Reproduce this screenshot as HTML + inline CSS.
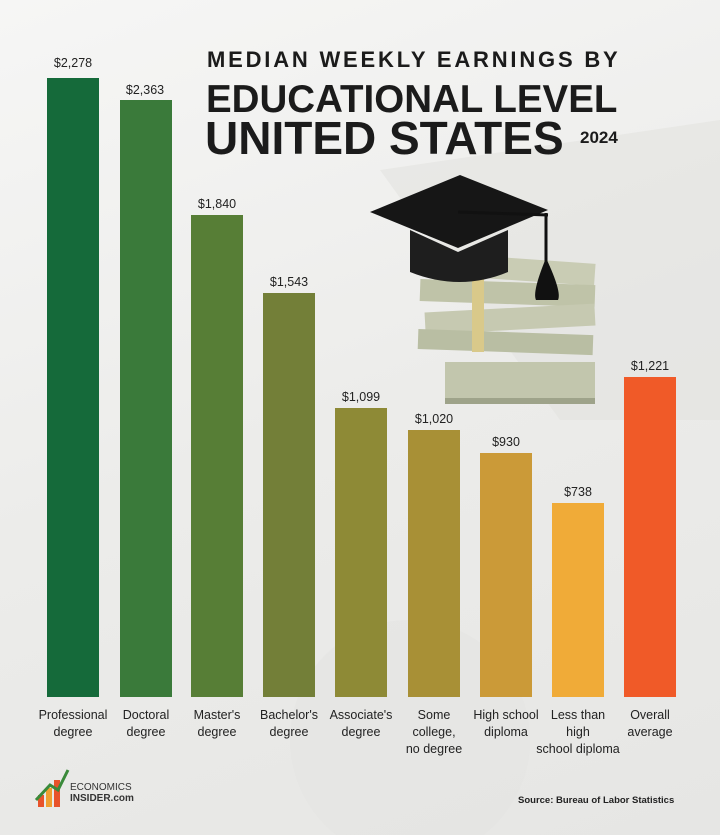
<!DOCTYPE html>
<html><head><meta charset="utf-8"><style>
body{margin:0;width:720px;height:835px;overflow:hidden;background:#efefee;font-family:"Liberation Sans",sans-serif;}
.c{position:relative;width:720px;height:835px;background:linear-gradient(160deg,#f6f6f5 0%,#ececea 50%,#e6e6e4 100%);}
.bar{position:absolute;bottom:138px;width:52px;}
.v{position:absolute;font-size:12.5px;color:#222;text-align:center;width:70px;}
.l{position:absolute;top:707px;font-size:12.5px;color:#222;text-align:center;width:100px;line-height:17px;}
.t{position:absolute;font-weight:bold;color:#1b1b1b;white-space:nowrap;}
</style></head><body><div class="c">
<svg width="720" height="835" style="position:absolute;left:0;top:0">
<polygon points="380,170 720,120 720,420 560,420" fill="#e2e2df" opacity="0.6"/>
<circle cx="410" cy="740" r="120" fill="#e3e3e1" opacity="0.5"/>
<g>
<rect x="430" y="258" width="165" height="22" fill="#c9ccb4" transform="rotate(4 512 269)"/>
<rect x="420" y="282" width="175" height="22" fill="#bfc3a8" transform="rotate(2 507 293)"/>
<rect x="425" y="308" width="170" height="22" fill="#c6c9b1" transform="rotate(-3 510 319)"/>
<rect x="418" y="332" width="175" height="20" fill="#b9bea3" transform="rotate(2 505 342)"/>
<rect x="445" y="362" width="150" height="40" fill="#c2c6ad"/>
<rect x="445" y="398" width="150" height="6" fill="#9ea38a"/>
<rect x="472" y="262" width="12" height="90" fill="#d9c98a"/>
</g>
<polygon points="370,212 460,175 548,210 458,248" fill="#161616"/>
<path d="M410,230 L410,272 Q460,292 508,272 L508,230 L458,252 Z" fill="#1e1e1e"/>
<line x1="458" y1="212" x2="548" y2="215" stroke="#111" stroke-width="3"/>
<line x1="546" y1="213" x2="546" y2="262" stroke="#111" stroke-width="3"/>
<path d="M546,258 Q532,292 536,300 L558,300 Q562,292 546,258Z" fill="#111"/>
<rect x="38" y="795" width="6" height="12" fill="#e8532a"/>
<rect x="46" y="788" width="6" height="19" fill="#f0a030"/>
<rect x="54" y="780" width="6" height="27" fill="#e8532a"/>
<polyline points="36,800 50,785 58,790 68,770" stroke="#3a8a3a" stroke-width="3" fill="none"/>
</svg>
<div class="t" style="left:207px;top:47px;font-size:22px;letter-spacing:2.8px">MEDIAN WEEKLY EARNINGS BY</div>
<div class="t" style="left:206px;top:78px;font-size:38.5px;letter-spacing:0px">EDUCATIONAL LEVEL</div>
<div class="t" style="left:205px;top:111px;font-size:46px;letter-spacing:0px">UNITED STATES</div>
<div class="t" style="left:580px;top:128px;font-size:17px">2024</div>

<div class="bar" style="left:47px;top:78px;background:#156a3a"></div>
<div class="bar" style="left:120px;top:100px;background:#3a7a3a"></div>
<div class="bar" style="left:191px;top:215px;background:#577e36"></div>
<div class="bar" style="left:263px;top:293px;background:#737f38"></div>
<div class="bar" style="left:335px;top:408px;background:#8e8a36"></div>
<div class="bar" style="left:408px;top:430px;background:#a89036"></div>
<div class="bar" style="left:480px;top:453px;background:#cb9a38"></div>
<div class="bar" style="left:552px;top:503px;background:#f0ab38"></div>
<div class="bar" style="left:624px;top:377px;background:#f05a28"></div>

<div class="v" style="left:38px;top:56px">$2,278</div>
<div class="v" style="left:110px;top:83px">$2,363</div>
<div class="v" style="left:182px;top:197px">$1,840</div>
<div class="v" style="left:254px;top:275px">$1,543</div>
<div class="v" style="left:326px;top:390px">$1,099</div>
<div class="v" style="left:399px;top:412px">$1,020</div>
<div class="v" style="left:471px;top:435px">$930</div>
<div class="v" style="left:543px;top:485px">$738</div>
<div class="v" style="left:615px;top:359px">$1,221</div>

<div class="l" style="left:23px">Professional<br>degree</div>
<div class="l" style="left:96px">Doctoral<br>degree</div>
<div class="l" style="left:167px">Master's<br>degree</div>
<div class="l" style="left:239px">Bachelor's<br>degree</div>
<div class="l" style="left:311px">Associate's<br>degree</div>
<div class="l" style="left:384px">Some<br>college,<br>no degree</div>
<div class="l" style="left:456px">High school<br>diploma</div>
<div class="l" style="left:528px">Less than<br>high<br>school diploma</div>
<div class="l" style="left:600px">Overall<br>average</div>

<div style="position:absolute;left:70px;top:782px;font-size:10px;line-height:11px;color:#333">ECONOMICS<br><b>INSIDER.com</b></div>
<div style="position:absolute;left:518px;top:795px;font-size:9.5px;font-weight:bold;color:#222">Source: Bureau of Labor Statistics</div>
</div></body></html>
